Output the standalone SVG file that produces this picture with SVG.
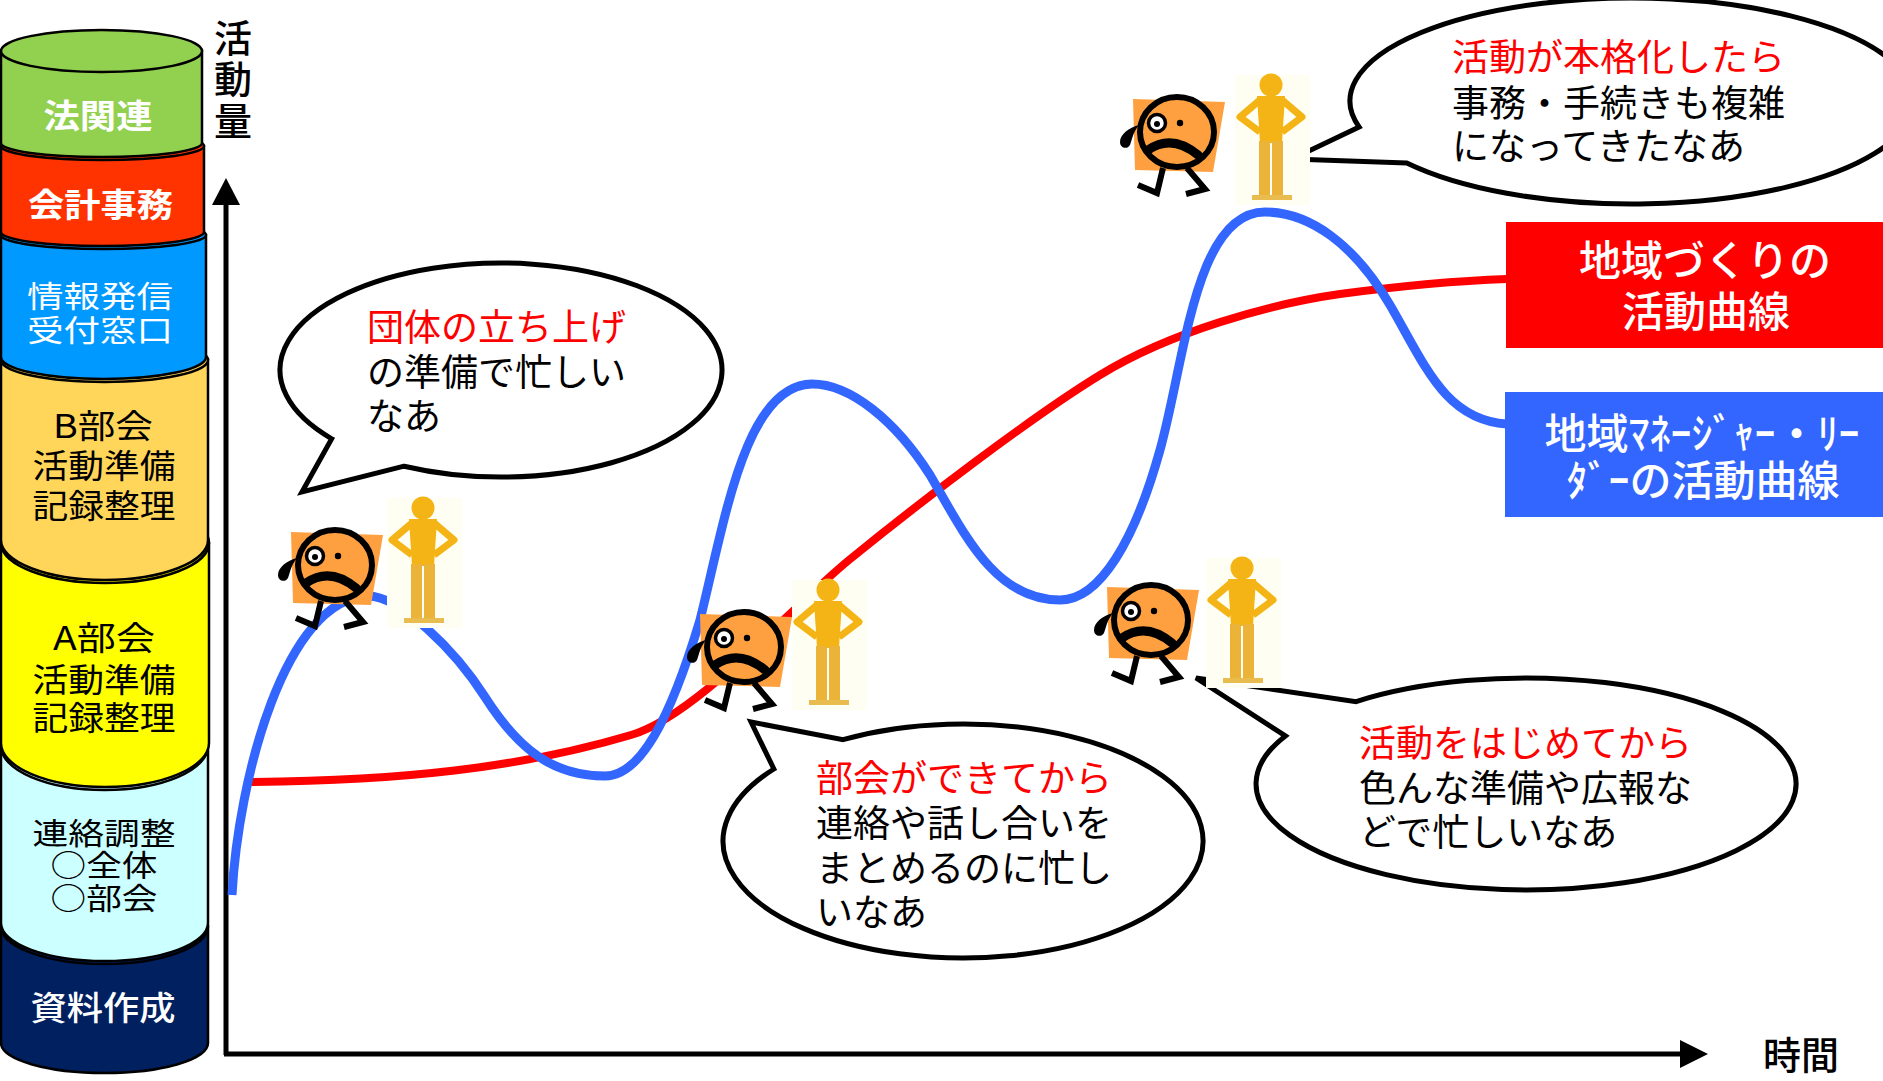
<svg xmlns="http://www.w3.org/2000/svg" width="1883" height="1081" viewBox="0 0 1883 1081">
<style>
  text { font-family: 'Noto Sans CJK JP', 'Noto Sans', sans-serif; }
  .band { stroke: #000; stroke-width: 2.5; }
  .bt { font-size: 33px; text-anchor: middle; }
  .tight { font-size: 30px; }
  .bubble { fill: #fff; stroke: #000; stroke-width: 5; stroke-linejoin: miter; }
  .say { font-size: 37px; }
  .red { fill: #FF0000; }
  .blk { fill: #000; }
  .wh { fill: #fff; }
  .axis { stroke: #000; stroke-width: 5; fill: none; }
  .curve { fill: none; stroke-linecap: butt; stroke-linejoin: round; }
  .label { font-size: 42px; font-weight: 500; fill: #fff; text-anchor: middle; }
</style>
<defs>
  <filter id="soft" x="-10%" y="-10%" width="120%" height="120%">
    <feGaussianBlur stdDeviation="0.7"/>
  </filter>
  <!-- worried little character, origin at the face centre -->
  <g id="worrier">
    <path d="M-44,-33 L48,-30 L36,40 L-42,38 Z" fill="#FFA040"/>
    <g stroke="#000" stroke-width="6" fill="none" stroke-linejoin="miter">
      <path d="M-14,36 L-20,61 L-39,53"/>
      <path d="M10,36 L28,57 L9,62"/>
    </g>
    <ellipse cx="0" cy="0" rx="37" ry="35" fill="#FFA040" stroke="#000" stroke-width="6"/>
    <circle cx="-20" cy="-9" r="8.5" fill="#fff" stroke="#000" stroke-width="3.5"/>
    <circle cx="-20" cy="-8" r="3" fill="#000"/>
    <circle cx="3" cy="-9" r="3.2" fill="#000"/>
    <path d="M-29,18 Q-5,1.5 21,23" stroke="#000" stroke-width="9" stroke-linecap="round" fill="none"/>
    <path d="M-38,-7 C-47,-5 -57,2 -57,10 C-57,16 -50,18 -47,13 C-45,8 -44,0 -38,-7 Z" fill="#000"/>
  </g>
  <!-- standing figure, hands on hips, origin at top-left of its pale box -->
  <g id="person">
    <rect width="75" height="130" fill="#FFFEF2"/>
    <g filter="url(#soft)">
      <circle cx="36" cy="10" r="11.5" fill="#F4B414"/>
      <path d="M22,21 H50 L47,68 H25 Z" fill="#F4B414"/>
      <path d="M25,25 L5,42 L25,57 M47,25 L67,42 L47,57" stroke="#F4B414" stroke-width="7" fill="none" stroke-linejoin="round"/>
      <rect x="24" y="66" width="11" height="56" fill="#EBB438"/>
      <rect x="37" y="66" width="11" height="56" fill="#EBB438"/>
      <rect x="17" y="120" width="40" height="5" fill="#E8BC50"/>
    </g>
  </g>
</defs>

<rect width="1883" height="1081" fill="#fff"/>

<!-- stacked workload cylinder, drawn from the bottom up -->
<g id="stack">
  <g id="band-shiryou">
    <path class="band" fill="#002060" d="M1,926 L1,1043 A103.5,30 0 0 0 208,1043 L208,926 Z"/>
    <ellipse class="band" fill="#002060" cx="104.5" cy="926" rx="103.5" ry="38"/>
    <text class="bt wh" x="103" y="1020" textLength="145" lengthAdjust="spacingAndGlyphs" font-weight="500">資料作成</text>
  </g>
  <g id="band-renraku">
    <path class="band" fill="#CCFFFF" d="M1,746 L1,923 A103.5,38 0 0 0 208,923 L208,746 Z"/>
    <ellipse class="band" fill="#CCFFFF" cx="104.5" cy="746" rx="103.5" ry="44"/>
    <text class="bt tight blk" x="104" y="844" textLength="143" lengthAdjust="spacingAndGlyphs">連絡調整</text>
    <text class="bt tight blk" x="104" y="876" textLength="107" lengthAdjust="spacingAndGlyphs">○全体</text>
    <text class="bt tight blk" x="104" y="909" textLength="107" lengthAdjust="spacingAndGlyphs">○部会</text>
  </g>
  <g id="band-a">
    <path class="band" fill="#FFFF00" d="M1,543 L1,743 A104,44 0 0 0 209,743 L209,543 Z"/>
    <ellipse class="band" fill="#FFFF00" cx="105" cy="543" rx="104" ry="40"/>
    <text class="bt blk" x="104" y="650" textLength="102" lengthAdjust="spacingAndGlyphs">A部会</text>
    <text class="bt blk" x="104" y="692" textLength="143" lengthAdjust="spacingAndGlyphs">活動準備</text>
    <text class="bt blk" x="104" y="730" textLength="143" lengthAdjust="spacingAndGlyphs">記録整理</text>
  </g>
  <g id="band-b">
    <path class="band" fill="#FFD55A" d="M1,360 L1,540 A103.5,40 0 0 0 208,540 L208,360 Z"/>
    <ellipse class="band" fill="#FFD55A" cx="104.5" cy="360" rx="103.5" ry="22"/>
    <text class="bt blk" x="103" y="438" textLength="100" lengthAdjust="spacingAndGlyphs">B部会</text>
    <text class="bt blk" x="104" y="478" textLength="143" lengthAdjust="spacingAndGlyphs">活動準備</text>
    <text class="bt blk" x="104" y="518" textLength="143" lengthAdjust="spacingAndGlyphs">記録整理</text>
  </g>
  <g id="band-jouhou">
    <path class="band" fill="#0099FF" d="M1,235 L1,357 A102.5,22 0 0 0 206,357 L206,235 Z"/>
    <ellipse class="band" fill="#0099FF" cx="103.5" cy="235" rx="102.5" ry="14"/>
    <text class="bt tight wh" x="100" y="307" textLength="146" lengthAdjust="spacingAndGlyphs">情報発信</text>
    <text class="bt tight wh" x="100" y="341" textLength="146" lengthAdjust="spacingAndGlyphs">受付窓口</text>
  </g>
  <g id="band-kaikei">
    <path class="band" fill="#FF3300" d="M1,146 L1,232 A101.5,14 0 0 0 204,232 L204,146 Z"/>
    <ellipse class="band" fill="#FF3300" cx="102.5" cy="146" rx="101.5" ry="14"/>
    <text class="bt wh" x="100.5" y="217" textLength="145" lengthAdjust="spacingAndGlyphs" font-weight="700">会計事務</text>
  </g>
  <g id="band-houkan">
    <path class="band" fill="#92D050" d="M1,51 L1,143 A100.5,14 0 0 0 202,143 L202,51 Z"/>
    <ellipse class="band" fill="#92D050" cx="101.5" cy="51" rx="100.5" ry="21"/>
    <text class="bt wh" x="98" y="128" textLength="109" lengthAdjust="spacingAndGlyphs" font-weight="700">法関連</text>
  </g>
</g>

<!-- axes -->
<g id="axes">
  <path class="axis" d="M226,1055 V200"/>
  <polygon points="226,178 212,205 240,205" fill="#000"/>
  <path class="axis" d="M224,1054 H1684"/>
  <polygon points="1708,1054 1680,1040 1680,1068" fill="#000"/>
  <text x="233" font-size="38" font-weight="500" text-anchor="middle" fill="#000">
    <tspan x="233" y="52">活</tspan><tspan x="233" y="93">動</tspan><tspan x="233" y="135">量</tspan>
  </text>
  <text x="1763" y="1069" font-size="38" font-weight="500" fill="#000">時間</text>
</g>

<!-- activity curves -->
<g id="curves">
  <path class="curve" stroke="#FF0000" stroke-width="8" d="M246,782 C400,781 520,768 631,735 C698,715 789,609 849,560 C919,503 1030,418 1100,375 C1170,332 1270,304 1340,294 C1400,286 1450,281 1507,279"/>
  <path class="curve" stroke="#3366FF" stroke-width="9" d="M232,895 C238,780 285,598 368,596 C400,596 455,650 485,697 C520,752 555,776 605,776 C640,776 670,720 700,620 C725,520 745,385 812,384 C850,384 895,420 930,475 C965,535 995,600 1060,600 C1100,600 1135,540 1160,450 C1185,360 1195,212 1265,212 C1310,212 1355,245 1390,305 C1425,365 1445,420 1507,424"/>
</g>

<!-- speech bubbles -->
<g id="bubble-start">
  <path class="bubble" d="M404.1,466.2 L302,492 L331.7,438.8 A221,107 0 1 1 404.1,466.2 Z"/>
  <text class="say red" x="367" y="341">団体の立ち上げ</text>
  <text class="say blk" x="367" y="386">の準備で忙しい</text>
  <text class="say blk" x="367" y="430">なあ</text>
</g>
<g id="bubble-bukai">
  <path class="bubble" d="M773.9,769 L751,722 L843,739.7 A240,117 0 1 1 773.9,769 Z"/>
  <text class="say red" x="816" y="792">部会ができてから</text>
  <text class="say blk" x="816" y="837">連絡や話し合いを</text>
  <text class="say blk" x="816" y="882">まとめるのに忙し</text>
  <text class="say blk" x="816" y="926">いなあ</text>
</g>
<g id="bubble-hajime">
  <path class="bubble" d="M1285.4,735.9 L1196,678 L1356.1,701.6 A270,106 0 1 1 1285.4,735.9 Z"/>
  <text class="say red" x="1359" y="757">活動をはじめてから</text>
  <text class="say blk" x="1359" y="802">色んな準備や広報な</text>
  <text class="say blk" x="1359" y="846">どで忙しいなあ</text>
</g>
<g id="bubble-honkaku">
  <path class="bubble" d="M1406.8,163 L1292,159 L1359.1,127 A282,103 0 1 1 1406.8,163 Z"/>
  <text class="say red" x="1452" y="71">活動が本格化したら</text>
  <text class="say blk" x="1452" y="117">事務・手続きも複雑</text>
  <text class="say blk" x="1452" y="160">になってきたなあ</text>
</g>

<!-- curve legends -->
<g id="legend-community">
  <rect x="1506" y="222" width="377" height="126" fill="#FF0000"/>
  <text class="label" x="1705" y="276">地域づくりの</text>
  <text class="label" x="1706" y="327">活動曲線</text>
</g>
<g id="legend-manager">
  <rect x="1505" y="392" width="378" height="125" fill="#3366FF"/>
  <text class="label" x="1702" y="449">地域ﾏﾈｰｼﾞｬｰ・ﾘｰ</text>
  <text class="label" x="1703" y="496">ﾀﾞｰの活動曲線</text>
</g>

<!-- characters along the curves -->
<g id="pair-start">
  <use href="#worrier" transform="translate(335,565)"/>
  <use href="#person" transform="translate(387,498)"/>
</g>
<g id="pair-bukai">
  <use href="#worrier" transform="translate(744,647)"/>
  <use href="#person" transform="translate(792,580)"/>
</g>
<g id="pair-hajime">
  <use href="#worrier" transform="translate(1151,620)"/>
  <use href="#person" transform="translate(1206,558)"/>
</g>
<g id="pair-honkaku">
  <use href="#worrier" transform="translate(1177,132)"/>
  <use href="#person" transform="translate(1235,75)"/>
</g>
</svg>
